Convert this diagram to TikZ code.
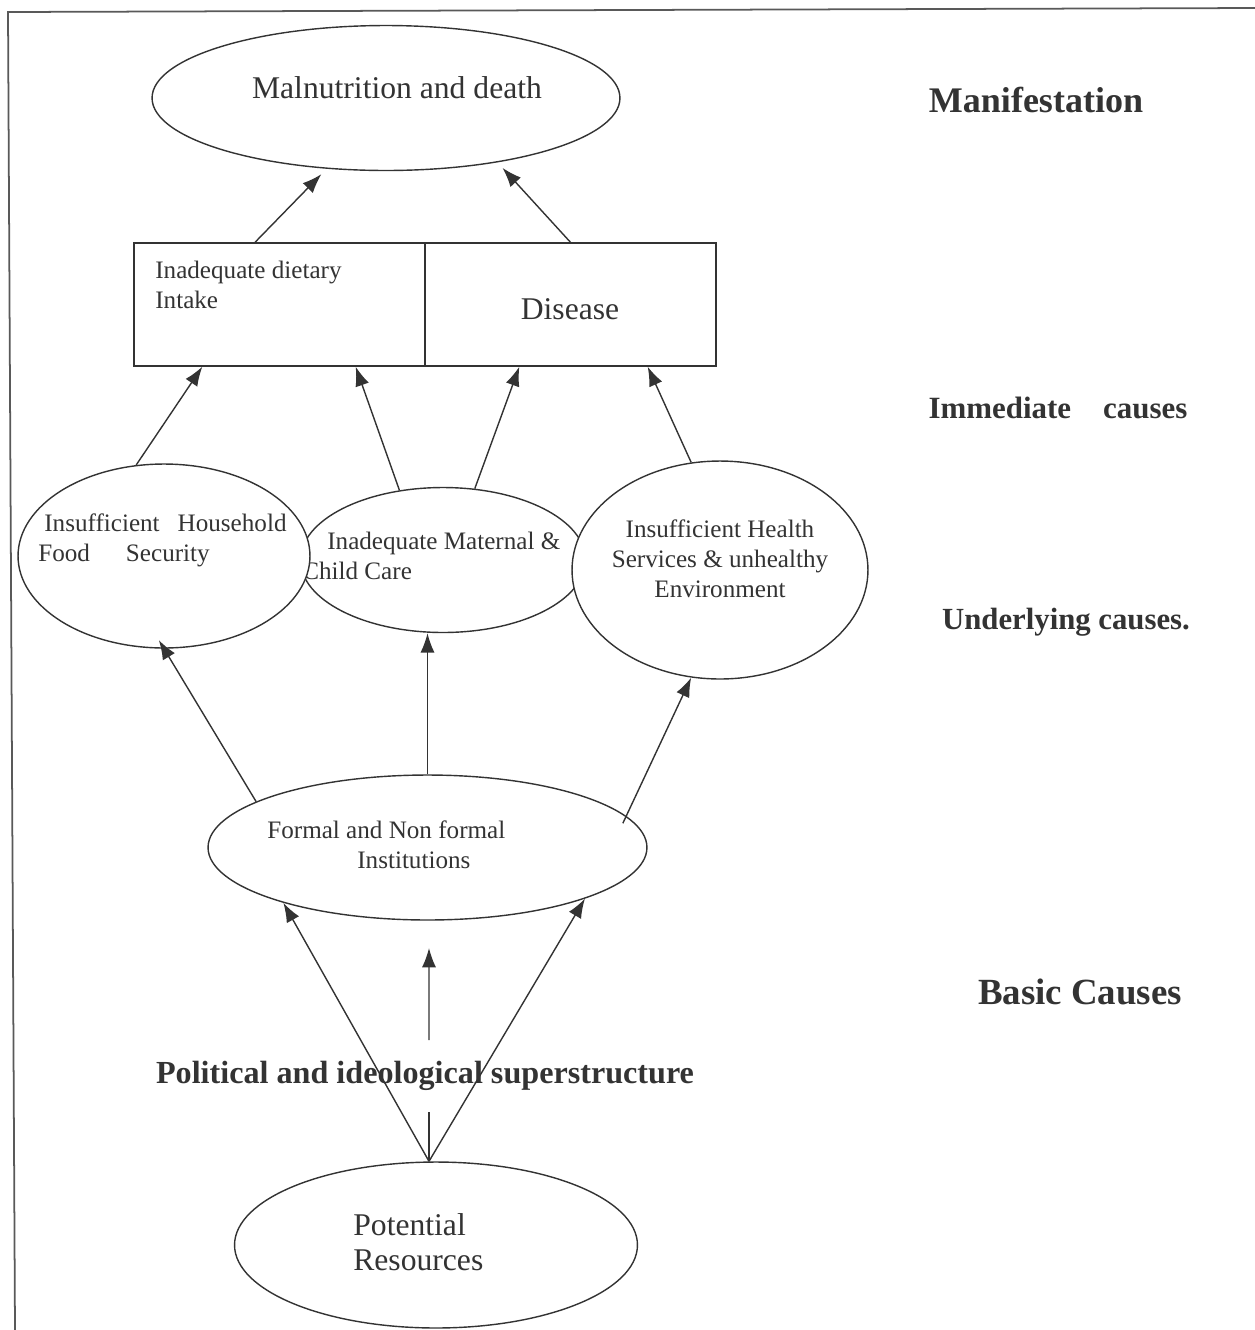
\documentclass[tikz,border=0pt]{standalone}
\usepackage{fontspec}
\setmainfont{Liberation Serif}
\usetikzlibrary{shapes.geometric,arrows.meta}
\newcommand{\smalltxt}{\fontsize{14.3}{17}\selectfont}
\newcommand{\bigtxt}{\fontsize{18}{20}\selectfont}
\newcommand{\headtxt}[1]{\fontsize{#1}{#1}\selectfont\bfseries}
\tikzset{
  ell/.style={draw, ellipse, inner sep=0pt, line width=0.8pt, fill=white},
  cell/.style={draw, rectangle, inner sep=0pt, line width=0.8pt, minimum width=5.82cm, minimum height=2.46cm},
  txt/.style={inner sep=0pt, align=left, font=\smalltxt},
  arr/.style={-{Latex[length=11pt,width=8pt]}, line width=0.8pt},
}
\begin{document}
\begin{tikzpicture}[x=0.02cm, y=-0.02cm, black!80]
\useasboundingbox (0,0) rectangle (1255,1330);
\draw[line width=1pt, black!65] (1255,8) -- (8,12) -- (15,1330);

\node[ell, minimum width=9.36cm, minimum height=2.9cm] (mal) at (386,98) {};
\node[txt, font=\bigtxt] (maltxt) at (397,88) {Malnutrition and death};

\node[cell] (diet) at (279.5,304.5) {};
\node[cell] (dis) at (570.5,304.5) {};
\node[txt, anchor=west] (diettxt) at (155,285) {Inadequate dietary\\Intake};
\node[txt, font=\bigtxt] (distxt) at (570,309) {Disease};

\node[ell, minimum width=5.7cm, minimum height=2.9cm] (mcc) at (443,560) {};
\node[txt, anchor=west] (mcctxt) at (302,556) {\hspace*{0.5cm}Inadequate Maternal \&\\Child Care};

\node[ell, minimum width=5.84cm, minimum height=3.68cm] (hfs) at (164,556) {};
\node[txt, anchor=west] (hfstxt) at (38,540) {\hspace*{0.12cm}Insufficient\hspace{0.36cm}Household\\Food\hspace{0.72cm}Security};

\node[ell, minimum width=5.92cm, minimum height=4.36cm] (hsv) at (720,570) {};
\node[txt, align=center] (hsvtxt) at (720,559) {Insufficient Health\\Services \& unhealthy\\Environment};

\node[ell, minimum width=8.78cm, minimum height=2.9cm] (inst) at (427.5,847.5) {};
\node[txt, anchor=west] (insttxt) at (267,845) {Formal and Non formal\\\hspace*{1.8cm}Institutions};

\node[ell, minimum width=8.06cm, minimum height=3.32cm] (pot) at (436,1245) {};
\node[txt, font=\bigtxt, anchor=west] (pottxt) at (353,1242) {Potential\\Resources};

\node[inner sep=0pt, minimum height=1.42cm, font=\headtxt{18.3}] (pol) at (425,1076) {Political and ideological superstructure};

\node[font=\headtxt{20.5}] (man) at (1036,100) {Manifestation};
\node[font=\headtxt{17.6}] (imm) at (1058,408) {Immediate\hspace{0.64cm}causes};
\node[font=\headtxt{17.5}] (und) at (1066,622) {Underlying causes.};
\node[font=\headtxt{21}] (bas) at (1080,992) {Basic Causes};

\draw[arr, shorten >=0.15cm] ([xshift=-0.49cm]diet.north) -- (mal.230);
\draw[arr, shorten >=0.15cm] (dis.north) -- (mal.330);

\draw[arr] (hfs.107) -- ([xshift=1.38cm]diet.south west);
\draw[arr] (mcc.122) -- ([xshift=-1.4cm]diet.south east);
\draw[arr] (mcc.66) -- ([xshift=1.9cm]dis.south west);
\draw[arr] (hsv.105) -- ([xshift=-1.38cm]dis.south east);

\draw[arr, shorten >=-0.2cm] (inst.165) -- (hfs.south);
\draw[arr] (inst.north) -- (inst.north |- mcc.south);
\draw[arr, shorten <=-0.16cm] (inst.9) -- (hsv.255);

\coordinate (apex) at ([xshift=-0.14cm]pot.north);
\coordinate (midtip) at (429,948);
\draw[arr] (apex) -- (inst.201);
\draw[arr] (apex) -- (inst.342);
\draw[line width=0.8pt] (apex) -- (pol.south -| apex);
\draw[arr] (pol.north -| apex) -- (midtip);
\end{tikzpicture}
\end{document}
